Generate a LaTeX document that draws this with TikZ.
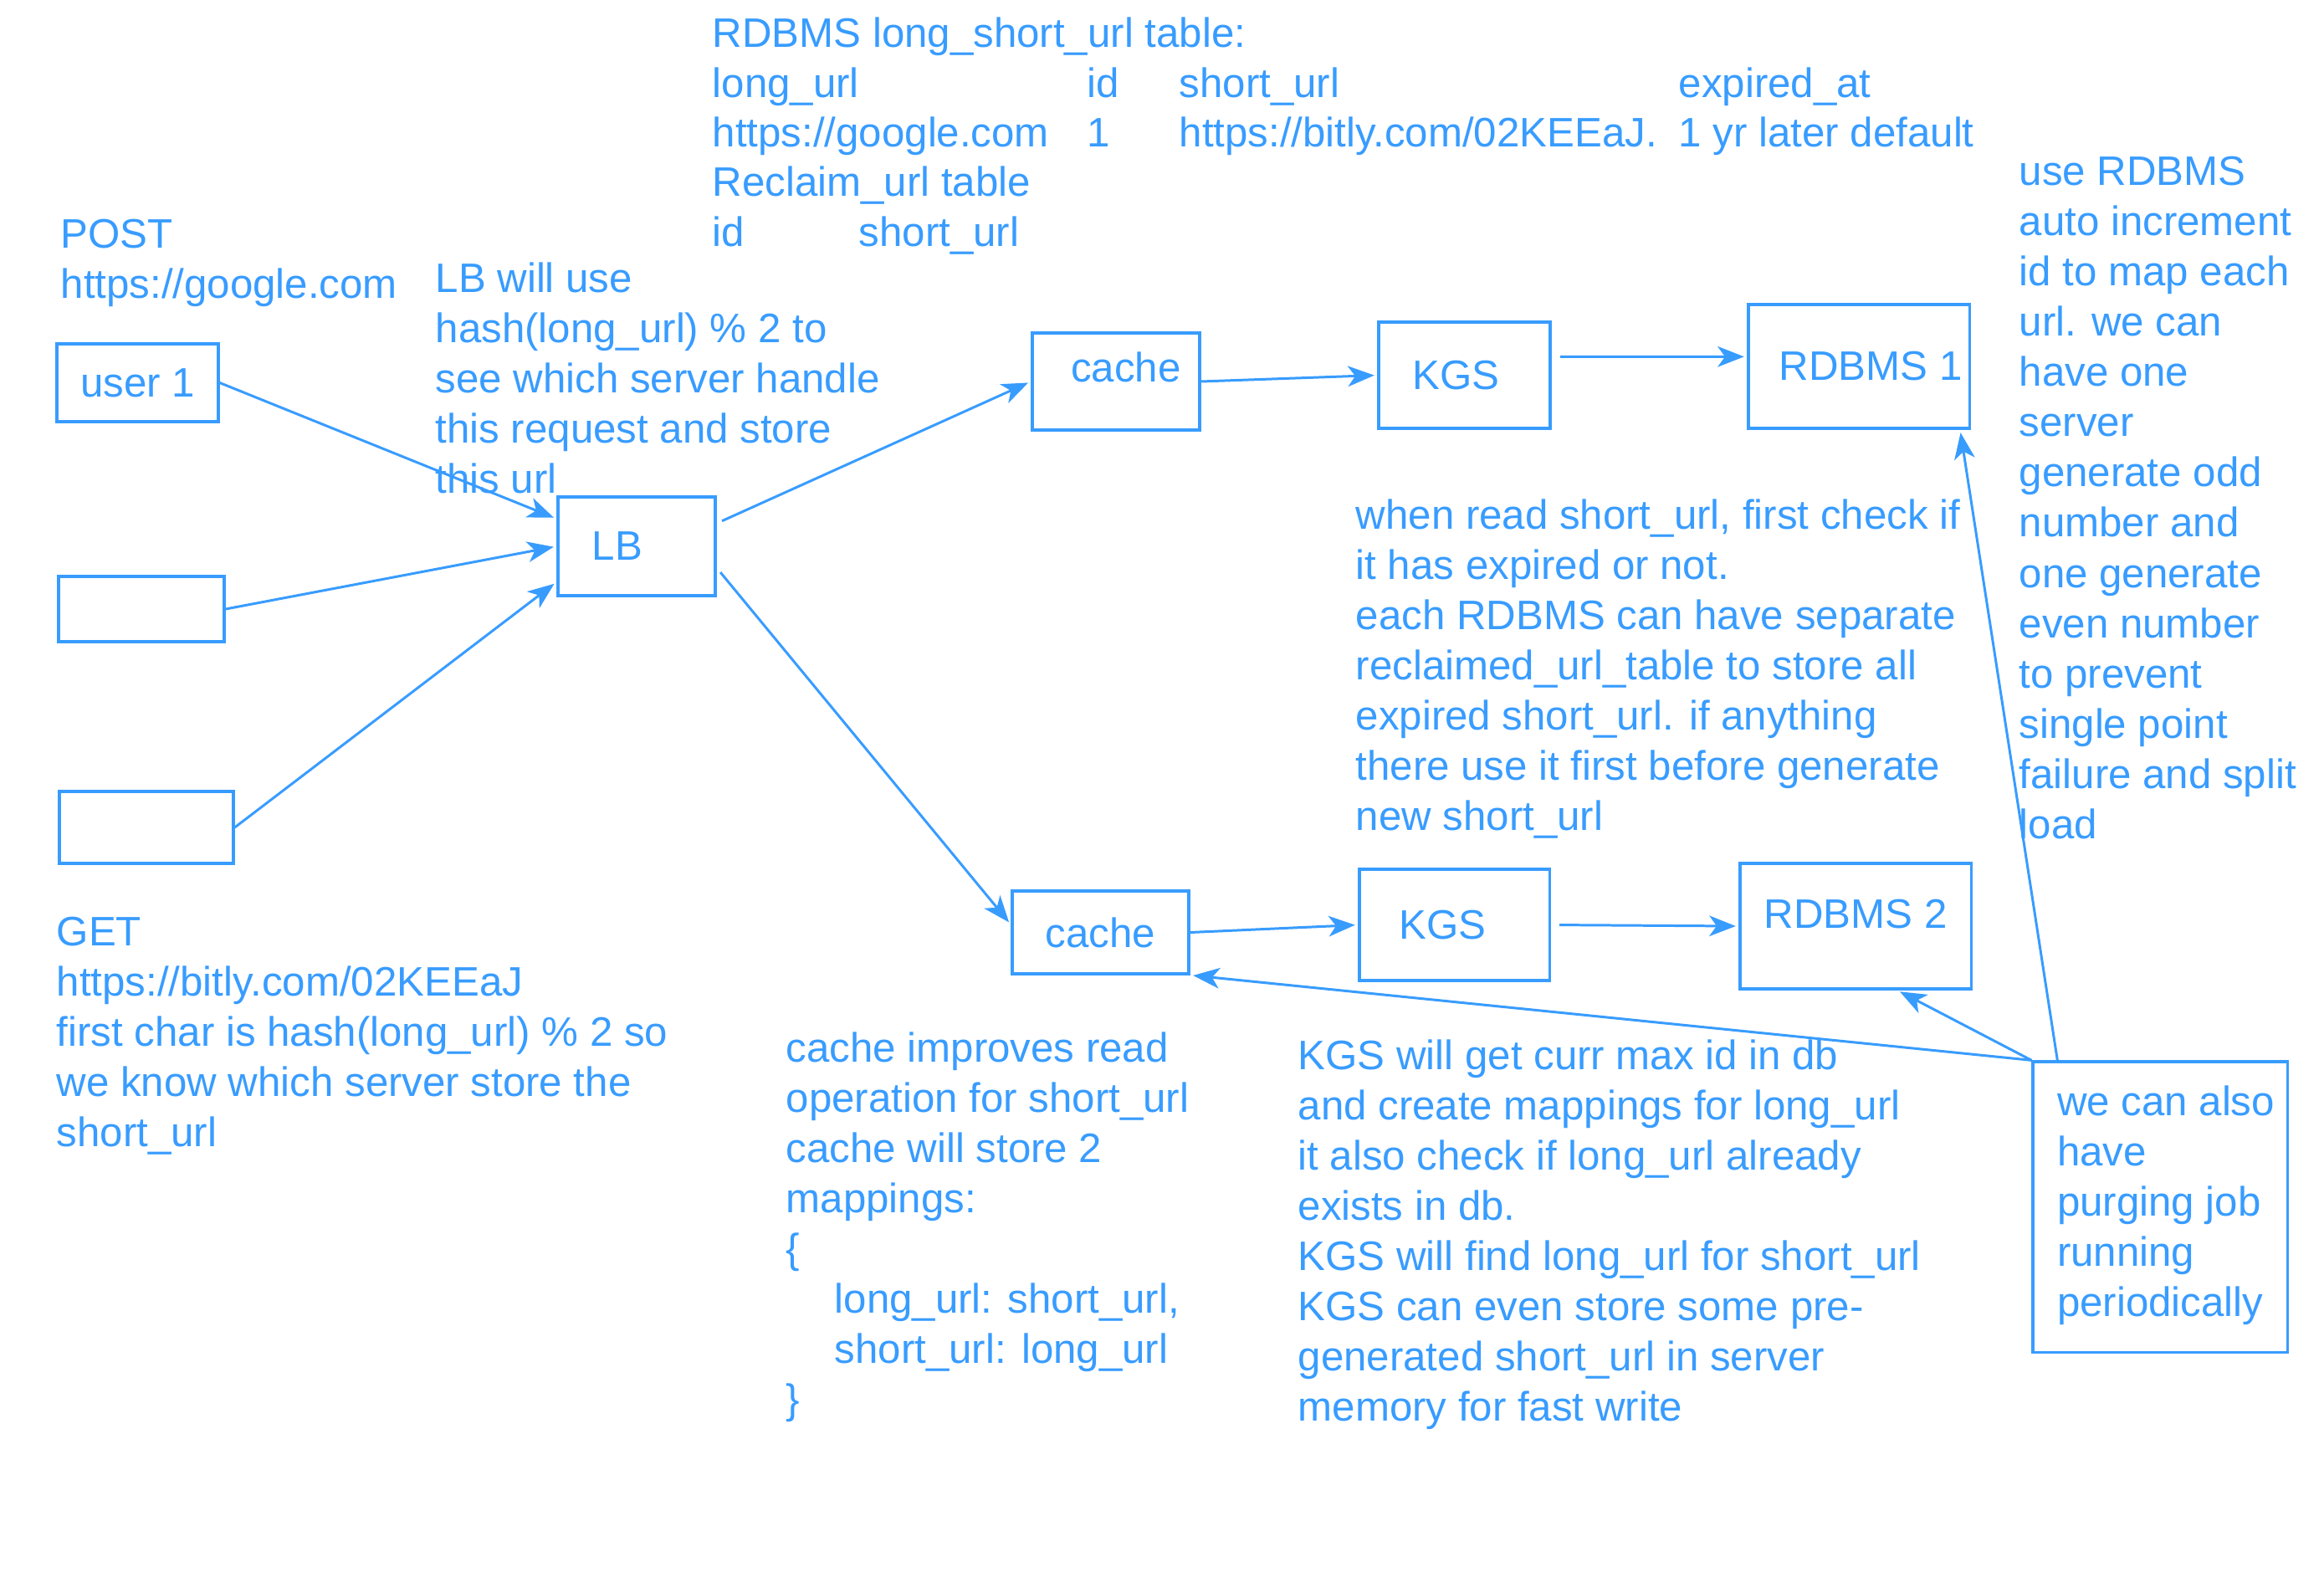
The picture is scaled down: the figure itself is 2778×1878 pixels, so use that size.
\documentclass[tikz,border=0pt]{standalone}
\usepackage{fontspec}
\setmainfont{Liberation Sans}
\usepackage{tikz}
\usetikzlibrary{arrows.meta}

\definecolor{blu}{RGB}{56,156,255}

\tikzset{
  box/.style={draw=blu, line width=0.9pt, rectangle, inner sep=0pt, align=left},
  cell/.style={anchor=base west, inner sep=0pt},
  note/.style={anchor=north west, inner sep=0pt, align=left, yshift=0.42cm},
  link/.style={draw=blu, line width=0.85pt, -{Stealth[length=9pt,width=7pt,inset=2.5pt]}, shorten >=1pt}
}

\begin{document}
\begin{tikzpicture}[x=0.01cm, y=-0.01cm, color=blu, font=\fontsize{14pt}{0.6cm}\selectfont]
\useasboundingbox[fill=white] (0,0) rectangle (2778,1878);

% boxes
\node[box, minimum width=1.93cm, minimum height=0.93cm] (user1) at (164.5,457.5) {user 1};
\node[box, minimum width=1.98cm, minimum height=0.78cm] (usr2) at (169,728) {};
\node[box, minimum width=2.08cm, minimum height=0.86cm] (usr3) at (175,989) {};
\node[box, minimum width=1.88cm, minimum height=1.18cm, label={[xshift=-0.23cm]center:LB}] (lb) at (761,653) {};
\node[box, minimum width=2.00cm, minimum height=1.16cm, label={[xshift=0.12cm, yshift=0.17cm]center:cache}] (cache1) at (1334,456) {};
\node[box, minimum width=2.05cm, minimum height=1.27cm, label={[xshift=-0.1cm]center:KGS}] (kgs1) at (1750.5,448.5) {};
\node[box, minimum width=2.64cm, minimum height=1.48cm, label={[xshift=0.14cm]center:RDBMS 1}] (rdbms1) at (2222,438) {};
\node[box, minimum width=2.11cm, minimum height=0.99cm] (cache2) at (1315.5,1114.5) {cache};
\node[box, minimum width=2.27cm, minimum height=1.33cm, label={[xshift=-0.14cm]center:KGS}] (kgs2) at (1738.5,1105.5) {};
\node[box, minimum width=2.76cm, minimum height=1.50cm, label={[yshift=0.14cm]center:RDBMS 2}] (rdbms2) at (2218,1107) {};
\node[box, minimum width=3.04cm, minimum height=3.47cm, label={[anchor=north west, inner sep=0pt, align=left, shift={(0.3cm,-0.23cm)}]north west:\strut we can also\\have\\purging job\\running\\periodically}] (purge) at (2582,1442.5) {};

% table text
\node[cell] (tbltitle) at (851,56) {RDBMS long\_short\_url table:};
\node[cell] (colong) at (851,116) {long\_url};
\node[cell] (colid) at (1299,116) {id};
\node[cell] (colshort) at (1409,116) {short\_url};
\node[cell] (colexp) at (2006,116) {expired\_at};
\node[cell] (vallong) at (851,175) {https://google.com};
\node[cell] (valid) at (1299,175) {1};
\node[cell] (valshort) at (1409,175) {https://bitly.com/02KEEaJ.};
\node[cell] (valexp) at (2006,175) {1 yr later default};
\node[cell] (rcltitle) at (851,234) {Reclaim\_url table};
\node[cell] (rclid) at (851,294) {id};
\node[cell] (rclshort) at (1026,294) {short\_url};

% notes
\node[note] (posttxt) at (72,296) {\strut POST\\https://google.com};
\node[note] (lbtxt) at (520,349) {\strut LB will use\\hash(long\_url) \% 2 to\\see which server handle\\this request and store\\this url};
\node[note] (gettxt) at (67,1130) {\strut GET\\https://bitly.com/02KEEaJ\\first char is hash(long\_url) \% 2 so\\we know which server store the\\short\_url};
\node[note] (cachetxt) at (939,1269) {\strut cache improves read\\operation for short\_url\\cache will store 2\\mappings:\\\{\\\hspace*{0.58cm}long\_url: short\_url,\\\hspace*{0.58cm}short\_url: long\_url\\\}};
\node[note] (readtxt) at (1620,632) {\strut when read short\_url, first check if\\it has expired or not.\\each RDBMS can have separate\\reclaimed\_url\_table to store all\\expired short\_url. if anything\\there use it first before generate\\new short\_url};
\node[note] (kgstxt) at (1551,1278) {\strut KGS will get curr max id in db\\and create mappings for long\_url\\it also check if long\_url already\\exists in db.\\KGS will find long\_url for short\_url\\KGS can even store some pre-\\generated short\_url in server\\memory for fast write};
\node[note] (idtxt) at (2413,221) {\strut use RDBMS\\auto increment\\id to map each\\url. we can\\have one\\server\\generate odd\\number and\\one generate\\even number\\to prevent\\single point\\failure and split\\load};

% arrows
\draw[link] (user1.east) -- (lb.161);
\draw[link] (usr2.east) -- (lb.west);
\draw[link] (usr3.east) -- (lb.204);
\draw[link, shorten <=2pt] (lb.16) -- (cache1.west);
\draw[link, shorten <=2pt] (lb.-15) -- (cache2.175);
\draw[link] (cache1.east) -- (kgs1.west);
\draw[link, shorten <=3pt] (kgs1.12) -- (rdbms1.175);
\draw[link] (cache2.east) -- (kgs2.west);
\draw[link, shorten <=3pt] (kgs2.east) -- (rdbms2.west);
\draw[link] (purge.north west) -- (cache2.south east);
\draw[link] (purge.north west) -- (rdbms2.-57);
\draw[link] (purge.125) -- (rdbms1.-32);
\end{tikzpicture}
\end{document}
